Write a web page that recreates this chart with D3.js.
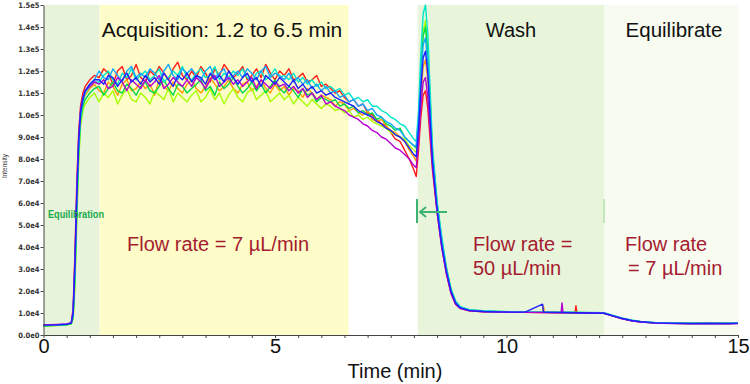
<!DOCTYPE html>
<html>
<head>
<meta charset="utf-8">
<script src="https://cdn.jsdelivr.net/npm/d3@7"></script>
<style>
body{margin:0;background:#fff;}
svg{display:block;font-family:"Liberation Sans",Arial,sans-serif;}
</style>
</head>
<body>
<svg id="chart" width="750" height="384"></svg>
<script>
// sampling times (min), shared by all runs
const times = [0,0.3,0.5,0.6,0.64,0.68,0.72,0.76,0.8,0.85,0.9,1.0,1.1,
  1.2,1.3,1.4,1.5,1.6,1.7,1.8,1.9,2.0,2.1,
  2.2,2.3,2.4,2.5,2.6,2.7,2.8,2.9,3.0,3.1,
  3.2,3.3,3.4,3.5,3.6,3.7,3.8,3.9,4.0,4.1,
  4.2,4.3,4.4,4.5,4.6,4.7,4.8,4.9,5.0,5.1,
  5.2,5.3,5.4,5.5,5.6,5.7,5.8,5.9,6.0,6.1,
  6.2,6.3,6.4,6.5,6.6,6.7,6.8,6.9,7.0,7.1,
  7.2,7.3,7.4,7.5,7.6,7.7,7.8,7.9,8.0,
  8.05,8.1,8.15,8.2,8.25,8.3,8.35,8.4,8.5,8.6,8.7,8.8,8.9,9.0,
  9.2,9.5,9.8,10.1,10.4,10.78,10.8,10.82,11.18,11.2,11.22,11.48,11.5,11.52,11.8,
  12.1,12.3,12.5,12.7,12.9,13.2,13.6,14.0,14.4,14.8,15.0];

// intensity of each injection, in thousands
const run1 = [4.4,4.6,4.8,5.6,12,38,70,92,104,110,113,116,118,
  117,121,119,114,120,122,116,118,123,117,
  115,120,118,122,119,116,121,124,118,116,
  120,117,122,119,115,121,118,123,120,117,
  119,122,116,118,121,117,123,119,116,120,
  118,121,116,117,119,115,116,118,113,114,
  112,110,111,108,106,107,104,105,101,100,
  98,96,95,92,89,88,84,80,75,
  72,84,99,109,111,103,89,75,56,40,28,19,14,12,
  11,10.6,10.4,10.4,10.3,10.2,10.3,10.2,10.1,10.2,10.1,10.1,13.3,10.1,10.0,
  9.9,8.6,7.4,6.5,5.9,5.5,5.3,5.2,5.3,5.2,5.3];
const run2 = [4.2,4.5,4.7,5.2,9,30,62,86,100,106,109,112,114,
  111,110,115,113,109,114,116,111,112,115,
  112,114,109,116,113,111,115,112,110,114,
  116,112,110,113,117,114,111,113,116,112,
  110,114,115,111,113,116,112,110,114,111,
  113,109,112,111,108,112,110,107,109,108,
  107,104,106,105,102,103,101,100,102,98,
  97,98,95,93,92,90,88,84,81,
  79,90,108,122,125,116,98,80,58,42,29,20,15,12.5,
  11.3,10.8,10.6,10.5,10.4,10.3,13.0,10.3,10.2,10.3,10.2,10.2,10.2,10.1,10.1,
  10.0,8.7,7.5,6.6,6.0,5.6,5.4,5.3,5.4,5.3,5.4];
const run3 = [4.0,4.3,4.5,5.0,7,22,52,78,95,102,105,108,110,
  106,110,108,111,105,109,112,107,106,110,
  108,105,111,109,107,112,106,110,108,106,
  109,111,106,108,112,107,110,105,109,112,
  108,106,110,112,107,109,111,106,108,110,
  107,109,105,108,106,104,107,105,103,105,
  104,102,103,101,102,99,100,98,99,97,
  96,95,94,92,91,90,89,86,84,
  83,95,118,138,143,131,108,84,60,44,31,21,15.5,12.8,
  11.4,10.9,10.7,10.6,10.5,10.4,10.4,10.4,10.3,10.3,10.3,10.2,10.2,10.2,10.1,
  10.0,8.8,7.6,6.7,6.1,5.6,5.4,5.3,5.3,5.3,5.4];
const run4 = [4.1,4.4,4.6,5.1,8,26,56,82,97,104,107,110,112,
  113,109,112,115,111,110,114,112,109,113,
  115,111,110,113,116,112,109,114,113,110,
  112,114,116,111,113,109,115,112,114,117,
  113,110,112,115,111,114,110,113,116,112,
  110,113,111,108,112,109,110,106,108,107,
  106,107,104,105,103,104,101,102,100,101,
  98,99,96,95,93,94,90,88,86,
  85,97,120,136,140,128,106,83,60,43,30,21,15,12.6,
  11.3,10.8,10.6,10.5,10.4,10.4,10.3,10.4,10.3,10.3,10.2,10.2,10.2,10.2,10.1,
  10.0,8.7,7.5,6.6,6.0,5.5,5.3,5.2,5.3,5.2,5.3];
const run5 = [4.3,4.5,4.7,5.3,9,28,60,85,99,106,110,113,115,
  115,118,120,116,114,119,117,121,116,118,
  120,116,118,121,115,117,120,118,122,117,
  116,119,121,117,118,122,116,119,117,120,
  118,121,117,115,119,120,116,118,121,117,
  118,116,119,115,117,114,116,113,115,112,
  113,111,112,109,110,107,108,106,107,104,
  104,102,101,99,98,96,95,92,89,
  88,102,128,146,150,137,112,86,61,45,31,21,15.5,12.9,
  11.5,11.0,10.8,10.6,10.5,10.4,10.4,10.4,10.3,10.3,10.3,10.3,10.2,10.2,10.2,
  10.1,8.9,7.7,6.8,6.1,5.7,5.5,5.4,5.4,5.4,5.5];
const run6 = [4.5,4.7,4.9,5.4,10,32,64,88,101,108,111,114,116,
  120,117,116,121,118,115,120,122,117,119,
  117,121,119,116,120,123,118,116,121,119,
  121,118,116,120,122,117,119,121,116,118,
  120,117,121,119,116,120,122,117,119,118,
  116,119,115,117,114,116,112,114,111,113,
  110,111,108,109,106,107,104,105,102,103,
  100,99,97,96,94,93,90,88,86,
  86,98,118,132,135,124,103,82,59,43,30,20,15,12.6,
  11.3,10.8,10.6,10.5,10.4,10.3,10.4,10.3,10.3,10.2,10.3,10.2,10.2,10.1,10.1,
  10.0,8.8,7.6,6.6,6.0,5.6,5.4,5.3,5.3,5.3,5.4];
const run7 = [4.6,4.8,5.0,5.5,11,35,66,90,102,108,111,113,115,
  114,116,112,113,117,115,111,116,114,112,
  116,113,115,118,112,114,117,115,113,116,
  113,117,115,112,116,118,113,115,117,114,
  116,113,115,117,112,116,114,112,115,113,
  114,111,113,110,112,108,110,107,109,105,
  106,104,103,102,100,99,98,96,95,93,
  92,90,89,87,85,84,82,80,77,
  76,88,104,115,117,108,93,77,56,40,28,19,14,12.1,
  11.0,10.6,10.4,10.3,10.3,10.2,10.2,10.2,10.1,14.6,10.1,10.1,10.0,10.1,10.0,
  9.9,8.6,7.4,6.5,5.9,5.4,5.2,5.1,5.2,5.1,5.2];
const run8 = [4.5,4.6,4.9,5.4,10,33,64,88,101,107,111,114,116,
  116,114,118,117,113,116,119,115,117,114,
  118,115,117,114,119,116,113,118,116,119,
  115,118,117,114,119,116,118,115,120,117,
  114,117,119,115,117,113,118,116,114,117,
  115,113,116,112,114,111,113,110,111,109,
  110,108,107,106,105,104,102,101,100,99,
  97,96,94,93,91,90,88,85,82,
  81,93,112,126,129,119,99,79,57,41,29,20,14.5,12.3,
  11.1,10.7,10.5,10.4,10.4,14.0,10.3,10.3,10.2,10.2,10.2,10.1,10.1,10.1,10.0,
  9.9,8.7,7.5,6.6,6.0,5.5,5.3,5.2,5.3,5.2,5.3];

const runs = [run1, run2, run3, run4, run5, run6, run7, run8];
const runColors = ["#ff1a1a", "#ff9a00", "#a6ff00", "#00d94a", "#00e6c8", "#12a6ff", "#b400d2", "#1f1fff"];

// method phases (min)
const phaseStart = [0, 1.2, 8.07, 12.1];
const phaseEnd = [1.2, 6.58, 12.1, 15];
const phaseColors = ["#e7f3da", "#fefcc8", "#e8f5db", "#f7fbf0"];

const xTickValues = [0,0.5,1,1.5,2,2.5,3,3.5,4,4.5,5,5.5,6,6.5,7,7.5,8,8.5,9,9.5,10,10.5,11,11.5,12,12.5,13,13.5,14,14.5,15];
const xTickLabels = [0, 5, 10, 15];
const yTickValues = [0,10,20,30,40,50,60,70,80,90,100,110,120,130,140,150];

const svg = d3.select("#chart");
const x = d3.scaleLinear().domain([0, 15]).range([43.5, 738]);
const y = d3.scaleLinear().domain([0, 150]).range([335, 5]);

// background phases
svg.append("g").selectAll("rect")
  .data(phaseStart)
  .join("rect")
  .attr("x", (d) => x(d) + 0.5)
  .attr("y", y(150))
  .attr("width", (d, i) => x(phaseEnd[i]) - x(d))
  .attr("height", y(0) - y(150))
  .attr("fill", (d, i) => phaseColors[i]);

// traces
const line = d3.line()
  .x((d, i) => x(times[i]))
  .y((d) => y(d));

svg.append("g").selectAll("path")
  .data(runs)
  .join("path")
  .attr("d", line)
  .attr("fill", "none")
  .attr("stroke", (d, i) => runColors[i])
  .attr("stroke-width", 1.4)
  .attr("stroke-linejoin", "round");

// axes
const xAxis = svg.append("g")
  .attr("transform", `translate(0,${y(0)})`)
  .call(d3.axisBottom(x).tickValues(xTickValues).tickSize(3).tickSizeOuter(0).tickPadding(1)
    .tickFormat((d) => xTickLabels.includes(d) ? d : ""));
xAxis.select(".domain").attr("stroke", "#444");
xAxis.selectAll(".tick line").attr("stroke", "#444");
xAxis.selectAll("text").attr("font-size", 20).attr("fill", "#111");

const fmt = (v) => v === 0 ? "0.0e0" : v < 100 ? (v / 10).toFixed(1) + "e4" : (v / 100).toFixed(1) + "e5";
const yAxis = svg.append("g")
  .attr("transform", `translate(${x(0)},0)`)
  .call(d3.axisLeft(y).tickValues(yTickValues).tickSize(3).tickSizeOuter(0).tickPadding(1).tickFormat(fmt));
yAxis.select(".domain").attr("stroke", "#444");
yAxis.selectAll(".tick line").attr("stroke", "#444");
yAxis.selectAll("text")
  .attr("font-family", "'Liberation Sans Narrow', 'DejaVu Sans Condensed', sans-serif")
  .attr("font-weight", "bold")
  .attr("font-size", 7.5)
  .attr("fill", "#333");

svg.append("text")
  .attr("transform", "translate(7,166) rotate(-90)")
  .attr("text-anchor", "middle")
  .attr("font-size", 6.5)
  .attr("fill", "#333")
  .text("Intensity");

svg.append("text")
  .attr("x", 395).attr("y", 378)
  .attr("text-anchor", "middle")
  .attr("font-size", 20)
  .attr("fill", "#111")
  .text("Time (min)");

// phase titles
const titles = [
  {t: "Acquisition: 1.2 to 6.5 min", x: 222, size: 21},
  {t: "Wash", x: 511, size: 20},
  {t: "Equilibrate", x: 674, size: 20.5}
];
svg.append("g").selectAll("text")
  .data(titles)
  .join("text")
  .attr("x", (d) => d.x).attr("y", 37)
  .attr("text-anchor", "middle")
  .attr("font-size", (d) => d.size)
  .attr("fill", "#111")
  .text((d) => d.t);

// flow rate notes
const red = "#a51c30";
const notes = [
  {t: "Flow rate = 7 µL/min", x: 127, y: 251},
  {t: "Flow rate =", x: 473, y: 251},
  {t: "50 µL/min", x: 473, y: 275},
  {t: "Flow rate", x: 625, y: 251},
  {t: "= 7 µL/min", x: 628, y: 275}
];
svg.append("g").selectAll("text")
  .data(notes)
  .join("text")
  .attr("x", (d) => d.x).attr("y", (d) => d.y)
  .attr("font-size", 20)
  .attr("fill", red)
  .text((d) => d.t);

svg.append("text")
  .attr("x", 48).attr("y", 218)
  .attr("font-family", "'Liberation Sans Narrow', sans-serif")
  .attr("font-weight", "bold")
  .attr("font-size", 11.5)
  .attr("textLength", 56)
  .attr("lengthAdjust", "spacingAndGlyphs")
  .attr("fill", "#1aaa4a")
  .text("Equilibration");

// green marker arrow at start of wash
const g = svg.append("g").attr("stroke", "#3cb371").attr("stroke-width", 2).attr("fill", "none");
g.append("line").attr("x1", 417).attr("x2", 417).attr("y1", 199).attr("y2", 223);
g.append("line").attr("x1", 421).attr("x2", 447).attr("y1", 212).attr("y2", 212);
g.append("path").attr("d", "M426,207 L420,212 L426,217");
svg.append("line").attr("x1", 604).attr("x2", 604).attr("y1", 199).attr("y2", 223)
  .attr("stroke", "#c4e6bc").attr("stroke-width", 2);
</script>
</body>
</html>
